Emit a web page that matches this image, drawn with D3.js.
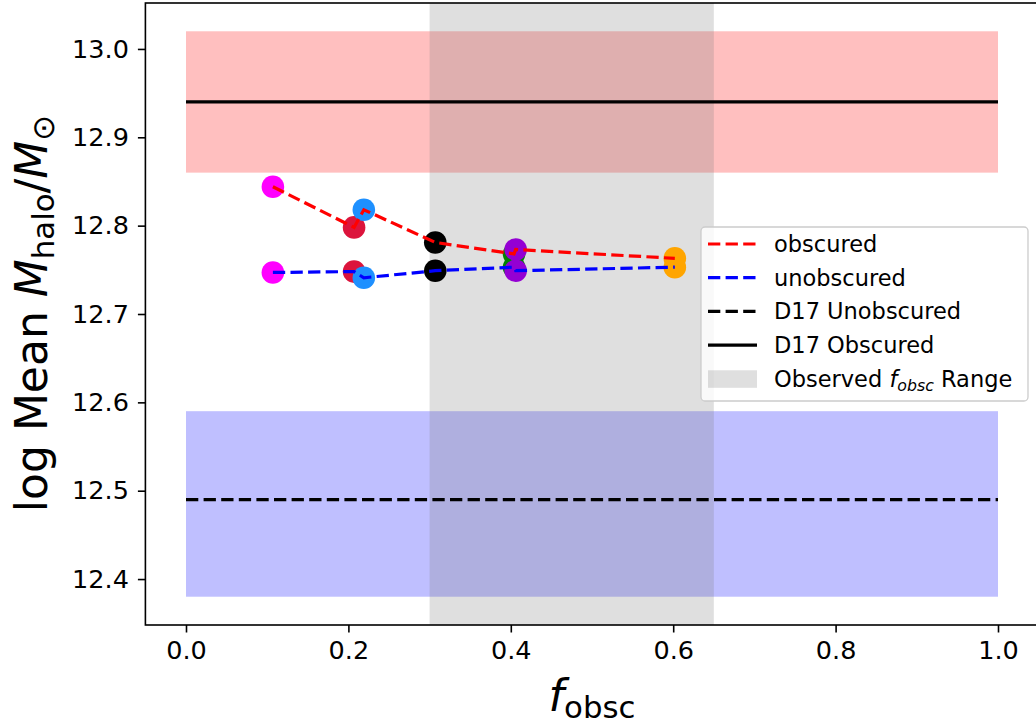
<!DOCTYPE html>
<html>
<head>
<meta charset="utf-8">
<script src="https://cdn.jsdelivr.net/npm/d3@7"></script>
<style>
  html, body { margin: 0; padding: 0; background: #fff; }
  svg { display: block; font-family: "DejaVu Sans", sans-serif; }
</style>
</head>
<body>
<svg id="chart" width="1036" height="726"></svg>
<script>
// Obscured fraction of each model and the mean halo masses it gives
const fObsc = [0.107, 0.207, 0.219, 0.307, 0.404, 0.406, 0.602];
const obscuredMass = [12.844, 12.798, 12.818, 12.781, 12.768, 12.773, 12.763];
const unobscuredMass = [12.747, 12.748, 12.741, 12.749, 12.753, 12.749, 12.753];
const pointColors = ["magenta", "crimson", "dodgerblue", "black", "green", "darkviolet", "orange"];

// D17 reference values and their ranges
const d17Obscured = 12.94;
const d17ObscuredBand = [12.86, 13.02];
const d17Unobscured = 12.49;
const d17UnobscuredBand = [12.38, 12.59];
const refSpan = [0, 1];
const observedRange = [0.30, 0.65];

const xTicks = [0.0, 0.2, 0.4, 0.6, 0.8, 1.0];
const yTicks = [12.4, 12.5, 12.6, 12.7, 12.8, 12.9, 13.0];

const svg = d3.select("#chart");
const x = d3.scaleLinear().domain([-0.05, 1.05]).range([145.4, 1038.6]);
const y = d3.scaleLinear().domain([12.348, 13.052]).range([625, 3]);

const plot = svg.append("g");

// shaded bands
plot.append("rect")
  .attr("x", x(refSpan[0])).attr("width", x(refSpan[1]) - x(refSpan[0]))
  .attr("y", y(d17ObscuredBand[1])).attr("height", y(d17ObscuredBand[0]) - y(d17ObscuredBand[1]))
  .attr("fill", "red").attr("fill-opacity", 0.25);
plot.append("rect")
  .attr("x", x(refSpan[0])).attr("width", x(refSpan[1]) - x(refSpan[0]))
  .attr("y", y(d17UnobscuredBand[1])).attr("height", y(d17UnobscuredBand[0]) - y(d17UnobscuredBand[1]))
  .attr("fill", "blue").attr("fill-opacity", 0.25);
plot.append("rect")
  .attr("x", x(observedRange[0])).attr("width", x(observedRange[1]) - x(observedRange[0]))
  .attr("y", y(13.052)).attr("height", y(12.348) - y(13.052))
  .attr("fill", "gray").attr("fill-opacity", 0.25);

// D17 lines
plot.append("line")
  .attr("x1", x(refSpan[0])).attr("x2", x(refSpan[1]))
  .attr("y1", y(d17Unobscured)).attr("y2", y(d17Unobscured))
  .attr("stroke", "black").attr("stroke-width", 3.2).attr("stroke-dasharray", "12.3,5.3");
plot.append("line")
  .attr("x1", x(refSpan[0])).attr("x2", x(refSpan[1]))
  .attr("y1", y(d17Obscured)).attr("y2", y(d17Obscured))
  .attr("stroke", "black").attr("stroke-width", 3.2);

// model points
const pts = fObsc.map((f, i) => ({ f, ob: obscuredMass[i], un: unobscuredMass[i], c: pointColors[i] }));
pts.forEach(d => {
  plot.append("circle").attr("cx", x(d.f)).attr("cy", y(d.ob)).attr("r", 11.3).attr("fill", d.c);
  plot.append("circle").attr("cx", x(d.f)).attr("cy", y(d.un)).attr("r", 11.3).attr("fill", d.c);
});

// dashed model curves
const lineOb = d3.line().x(d => x(d.f)).y(d => y(d.ob));
const lineUn = d3.line().x(d => x(d.f)).y(d => y(d.un));
plot.append("path").attr("d", lineOb(pts)).attr("fill", "none")
  .attr("stroke", "red").attr("stroke-width", 3.2).attr("stroke-dasharray", "12.3,5.3");
plot.append("path").attr("d", lineUn(pts)).attr("fill", "none")
  .attr("stroke", "blue").attr("stroke-width", 3.2).attr("stroke-dasharray", "12.3,5.3");

// axes
const xAxis = d3.axisBottom(x).tickValues(xTicks).tickFormat(d3.format(".1f")).tickSize(7.5).tickPadding(8);
const yAxis = d3.axisLeft(y).tickValues(yTicks).tickFormat(d3.format(".1f")).tickSize(7.5).tickPadding(9);
const gx = svg.append("g").attr("transform", "translate(0,625)").call(xAxis);
const gy = svg.append("g").attr("transform", "translate(145.4,0)").call(yAxis);
[gx, gy].forEach(g => {
  g.select(".domain").remove();
  g.selectAll(".tick line").attr("stroke", "black").attr("stroke-width", 1.6);
  g.selectAll(".tick text").attr("font-size", 25.5).attr("fill", "black")
    .attr("font-family", "DejaVu Sans");
});

// frame
svg.append("rect").attr("x", 145.4).attr("y", 3).attr("width", 1038.6 - 145.4).attr("height", 622)
  .attr("fill", "none").attr("stroke", "black").attr("stroke-width", 1.6);

// x label
const xl = svg.append("text").attr("x", 592).attr("y", 711).attr("text-anchor", "middle")
  .attr("font-size", 44).attr("fill", "black");
xl.append("tspan").attr("font-style", "italic").text("f");
xl.append("tspan").attr("font-size", 30.8).attr("dy", 7).text("obsc");

// y label
const yl = svg.append("text").attr("transform", "translate(47,313.5) rotate(-90)")
  .attr("text-anchor", "middle").attr("font-size", 44).attr("fill", "black");
yl.append("tspan").text("log Mean ");
yl.append("tspan").attr("font-style", "italic").text("M");
yl.append("tspan").attr("font-size", 30.8).attr("dy", 7).text("halo");
yl.append("tspan").attr("dy", -7).text("/");
yl.append("tspan").attr("font-style", "italic").text("M");
yl.append("tspan").attr("font-size", 30.8).attr("dy", 7).text("⊙");

// legend
const legend = svg.append("g");
legend.append("rect").attr("x", 701).attr("y", 227).attr("width", 327).attr("height", 174)
  .attr("rx", 4).attr("fill", "white").attr("fill-opacity", 0.8)
  .attr("stroke", "#cccccc").attr("stroke-width", 1.3);
const legendItems = [
  { label: "obscured", kind: "line", color: "red", dash: "12.3,5.3" },
  { label: "unobscured", kind: "line", color: "blue", dash: "12.3,5.3" },
  { label: "D17 Unobscured", kind: "line", color: "black", dash: "12.3,5.3" },
  { label: "D17 Obscured", kind: "line", color: "black", dash: null },
  { label: "Observed", kind: "patch", color: "gray" }
];
legendItems.forEach((it, i) => {
  const cy = 244 + i * 33.7;
  if (it.kind === "line") {
    legend.append("line").attr("x1", 708).attr("x2", 757).attr("y1", cy).attr("y2", cy)
      .attr("stroke", it.color).attr("stroke-width", 3.2)
      .attr("stroke-dasharray", it.dash);
  } else {
    legend.append("rect").attr("x", 708).attr("y", cy - 8.5).attr("width", 49).attr("height", 17.5)
      .attr("fill", it.color).attr("fill-opacity", 0.25);
  }
  const t = legend.append("text").attr("x", 774).attr("y", cy + 8).attr("font-size", 22.5).attr("fill", "black");
  if (it.kind === "patch") {
    t.append("tspan").text("Observed ");
    t.append("tspan").attr("font-style", "italic").text("f");
    t.append("tspan").attr("font-style", "italic").attr("font-size", 15.75).attr("dy", 4).text("obsc");
    t.append("tspan").attr("dy", -4).text(" Range");
  } else {
    t.text(it.label);
  }
});
</script>
</body>
</html>
